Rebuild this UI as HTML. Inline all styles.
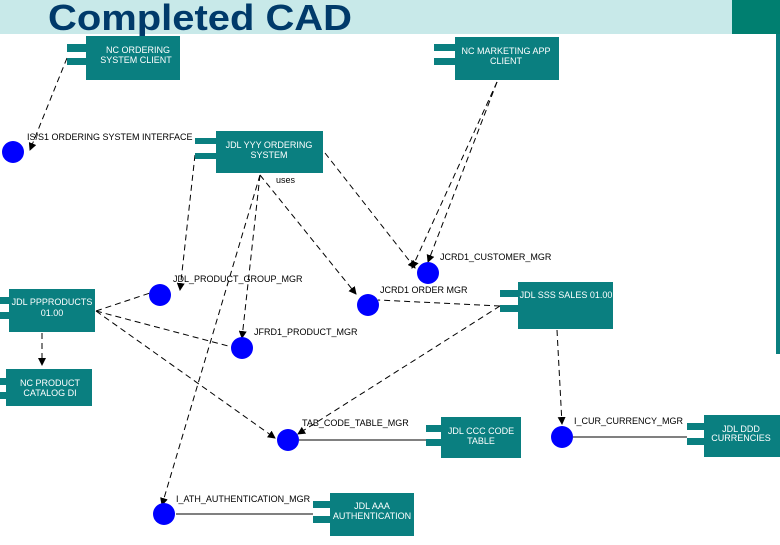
<!DOCTYPE html>
<html><head><style>
body{margin:0;width:780px;height:540px;overflow:hidden;background:#fff;font-family:"Liberation Sans",sans-serif}
</style></head><body>
<svg width="780" height="540" viewBox="0 0 780 540" xmlns="http://www.w3.org/2000/svg" font-family="Liberation Sans, sans-serif">
<defs><marker id="a" markerWidth="8" markerHeight="8" refX="7" refY="4" orient="auto" markerUnits="userSpaceOnUse"><path d="M0,0 L8,4 L0,8z" fill="#000"/></marker></defs>
<rect x="0" y="0" width="732" height="34" fill="#c8e9e9"/>
<rect x="732" y="0" width="48" height="34" fill="#007f70"/>
<rect x="776" y="34" width="4" height="320" fill="#0a7f7f"/>
<text x="48" y="30" font-size="36" font-weight="bold" fill="#003a6a" textLength="304" lengthAdjust="spacingAndGlyphs">Completed CAD</text>
<g fill="none" stroke="#000" stroke-width="1" stroke-dasharray="6,4">
<path d="M67,58 L30,150" marker-end="url(#a)"/>
<path d="M195,155 L180,290" marker-end="url(#a)"/>
<path d="M260,175 L242,338" marker-end="url(#a)"/>
<path d="M260,175 L162,505" marker-end="url(#a)"/>
<path d="M260,175 L356,294" marker-end="url(#a)"/>
<path d="M325,153 L415,268" marker-end="url(#a)"/>
<path d="M497,82 L428,262" marker-end="url(#a)"/>
<path d="M497,82 L412,268" marker-end="url(#a)"/>
<path d="M96,311 L150,293"/>
<path d="M96,311 L232,347"/>
<path d="M96,311 L275,438" marker-end="url(#a)"/>
<path d="M42,333 L42,365" marker-end="url(#a)"/>
<path d="M500,306 L378,300"/>
<path d="M500,306 L298,434" marker-end="url(#a)"/>
<path d="M557,330 L562,424" marker-end="url(#a)"/>
</g>
<g stroke="#000" stroke-width="1">
<line x1="299" y1="440" x2="426" y2="440"/>
<line x1="573" y1="437" x2="687" y2="437"/>
<line x1="176" y1="514" x2="313" y2="514"/>
</g>
<g fill="#0a7f80">
<rect x="86" y="36" width="94" height="44"/><rect x="67" y="44" width="36" height="8"/><rect x="67" y="58" width="36" height="7"/>
<rect x="455" y="37" width="104" height="43"/><rect x="434" y="44" width="41" height="7"/><rect x="434" y="58" width="41" height="7"/>
<rect x="216" y="131" width="107" height="42"/><rect x="195" y="138" width="40" height="6"/><rect x="195" y="153" width="40" height="6"/>
<rect x="9" y="289" width="86" height="43"/><rect x="0" y="297" width="25" height="7"/><rect x="0" y="312" width="25" height="7"/>
<rect x="6" y="369" width="86" height="37"/><rect x="0" y="378" width="20" height="7"/><rect x="0" y="392" width="20" height="7"/>
<rect x="518" y="282" width="95" height="47"/><rect x="500" y="290" width="35" height="7"/><rect x="500" y="305" width="35" height="7"/>
<rect x="441" y="417" width="80" height="41"/><rect x="426" y="425" width="25" height="7"/><rect x="426" y="439" width="25" height="7"/>
<rect x="704" y="415" width="76" height="42"/><rect x="687" y="423" width="25" height="7"/><rect x="687" y="438" width="25" height="7"/>
<rect x="330" y="493" width="84" height="43"/><rect x="313" y="501" width="32" height="7"/><rect x="313" y="516" width="32" height="7"/>
</g>
<g fill="#fff" font-size="9" text-anchor="middle">
<text x="138" y="53">NC ORDERING</text><text x="136" y="63">SYSTEM CLIENT</text>
<text x="506" y="54">NC MARKETING APP</text><text x="506" y="64">CLIENT</text>
<text x="269" y="148">JDL YYY ORDERING</text><text x="269" y="158">SYSTEM</text>
<text x="52" y="305">JDL PPPRODUCTS</text><text x="52" y="316">01.00</text>
<text x="50" y="386">NC PRODUCT</text><text x="50" y="396">CATALOG DI</text>
<text x="566" y="298">JDL SSS SALES 01.00</text>
<text x="481" y="434">JDL CCC CODE</text><text x="481" y="444">TABLE</text>
<text x="741" y="432">JDL DDD</text><text x="741" y="441">CURRENCIES</text>
<text x="372" y="509">JDL AAA</text><text x="372" y="519">AUTHENTICATION</text>
</g>
<g fill="#0000ff">
<circle cx="13" cy="152" r="11"/><circle cx="160" cy="295" r="11"/><circle cx="368" cy="305" r="11"/>
<circle cx="428" cy="273" r="11"/><circle cx="242" cy="348" r="11"/><circle cx="288" cy="440" r="11"/>
<circle cx="562" cy="437" r="11"/><circle cx="164" cy="514" r="11"/>
</g>
<g font-size="9" fill="#000">
<text x="27" y="140">IS/S1 ORDERING SYSTEM INTERFACE</text>
<text x="276" y="183">uses</text>
<text x="173" y="282">JDL_PRODUCT_GROUP_MGR</text>
<text x="380" y="293">JCRD1 ORDER MGR</text>
<text x="440" y="260">JCRD1_CUSTOMER_MGR</text>
<text x="254" y="335">JFRD1_PRODUCT_MGR</text>
<text x="302" y="426">TAB_CODE_TABLE_MGR</text>
<text x="574" y="424">I_CUR_CURRENCY_MGR</text>
<text x="176" y="502">I_ATH_AUTHENTICATION_MGR</text>
</g>
</svg>
</body></html>
